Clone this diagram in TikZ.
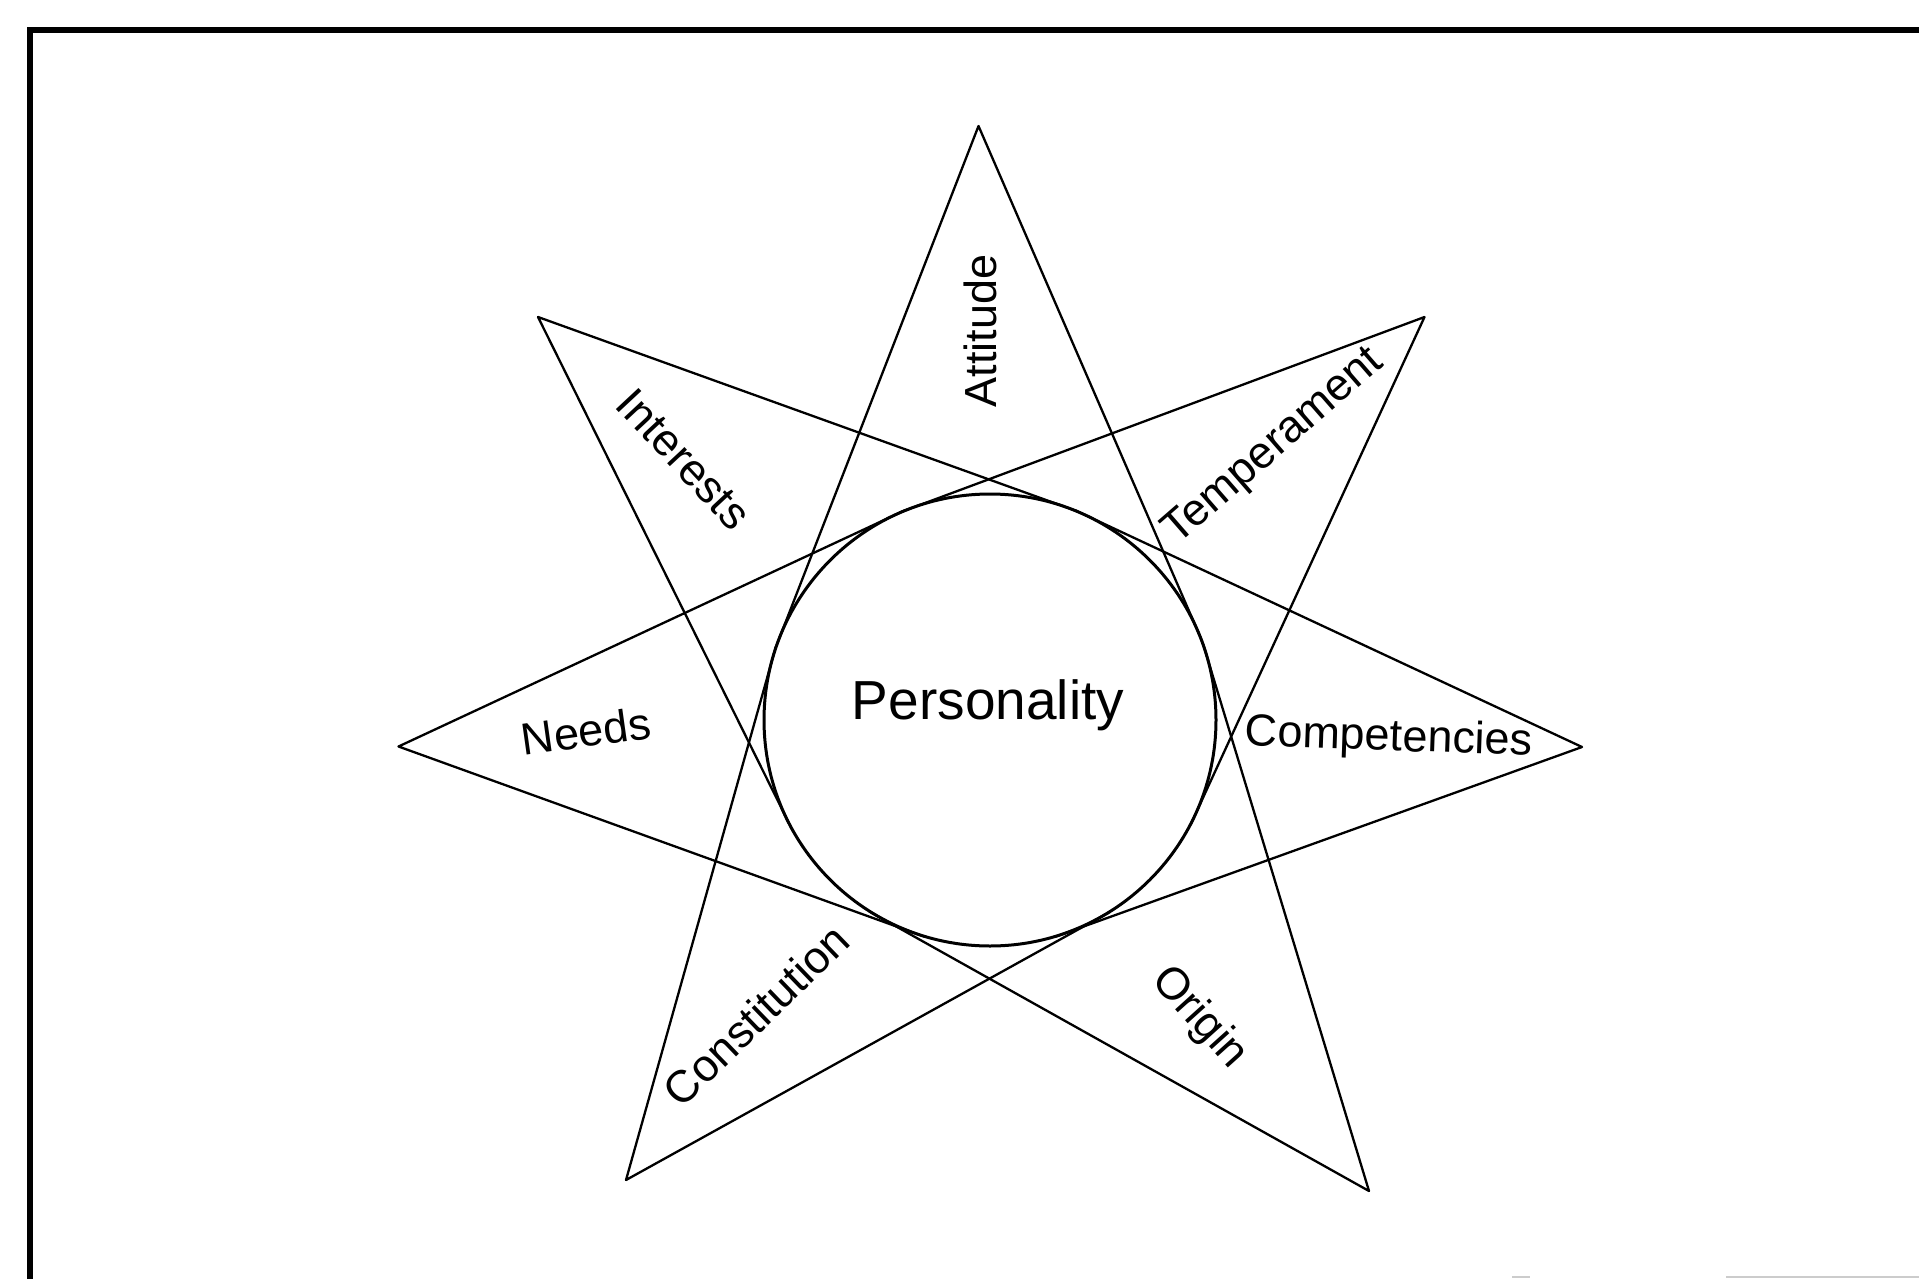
\documentclass[tikz,border=0pt]{standalone}
\usepackage{fontspec}
\setmainfont{Liberation Sans}
\usetikzlibrary{calc}
\begin{document}
\begin{tikzpicture}[x=1pt,y=-1pt,
  starline/.style={line width=2.3pt, line cap=round, line join=round, black},
  lbl/.style={font=\fontsize{45}{50}\selectfont, inner sep=0pt},
  frameline/.style={line width=6pt, black},
  ring/.style={circle, draw, line width=3pt, minimum size=452pt, inner sep=0pt, outer sep=0pt}]
\useasboundingbox (0,0) rectangle (1919,1279);
% frame
\draw[frameline] (30,1279) -- (30,30) -- (1919,30);
\draw[gray!40, line width=2pt] (1726,1277) -- (1919,1277);
\draw[gray!40, line width=2pt] (1512,1277) -- (1530,1277);
% central circle
\node[ring] (circ) at (990,720) {};
\node[font=\fontsize{55}{60}\selectfont, inner sep=0pt] (pers) at (988,705) {Personality};
% star vertices
\coordinate (vTop) at (978.5,126);
\coordinate (vUR) at (1424.5,317);
\coordinate (vR) at (1582,747);
\coordinate (vLR) at (1369,1191);
\coordinate (vLL) at (626,1180);
\coordinate (vL) at (398.5,746.5);
\coordinate (vUL) at (538,317);
% each point: two sides tangent to the circle
\foreach \v in {vTop,vUR,vR,vLR,vLL,vL,vUL}{
  \coordinate (ta\v) at (tangent cs:node=circ,point={(\v)},solution=1);
  \coordinate (tb\v) at (tangent cs:node=circ,point={(\v)},solution=2);
  \coordinate (ea\v) at ($(ta\v)!-12pt!(\v)$);
  \coordinate (eb\v) at ($(tb\v)!-12pt!(\v)$);
  \draw[starline] (ea\v) -- (\v) -- (eb\v);
}
% labels
\node[lbl, rotate=90] (attitude) at (980,331) {Attitude};
\node[lbl, rotate=41] (temperament) at (1274,447) {Temperament};
\node[lbl, rotate=-2] (competencies) at (1389,739) {Competencies};
\node[lbl, rotate=-48] (origin) at (1199,1018) {Origin};
\node[lbl, rotate=44] (constitution) at (756,1015) {Constitution};
\node[lbl, rotate=8] (needs) at (586,731) {Needs};
\node[lbl, rotate=-47] (interests) at (684,459) {Interests};
\end{tikzpicture}
\end{document}
